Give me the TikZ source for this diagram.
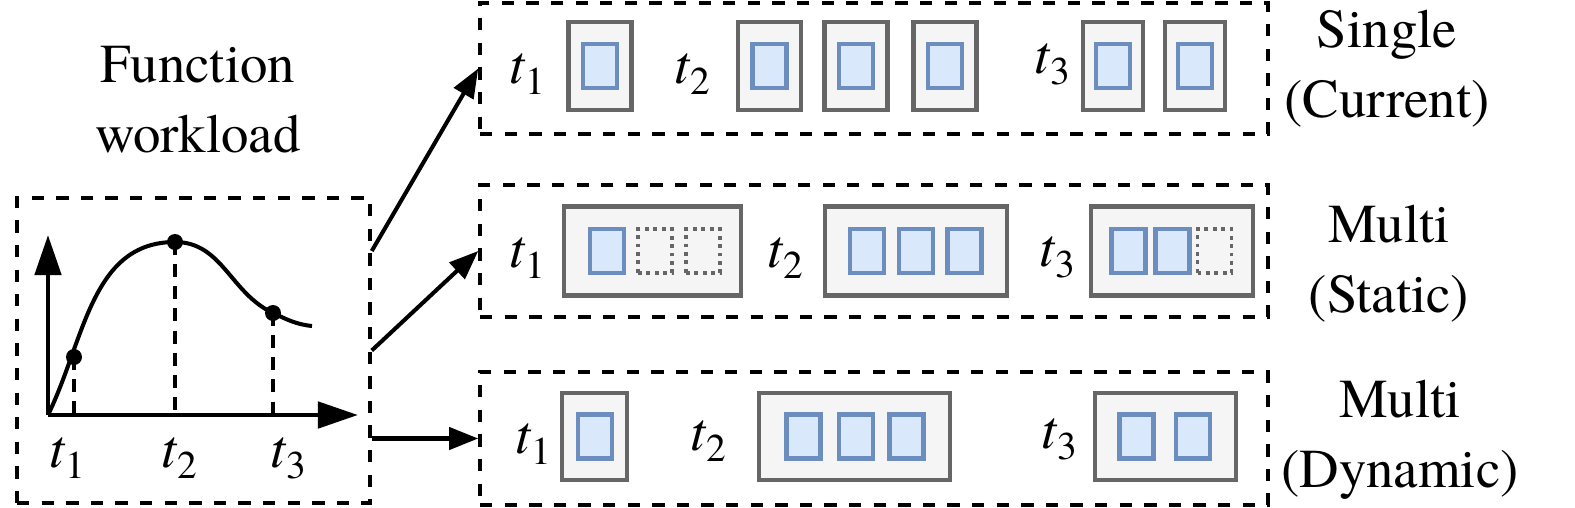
\documentclass[tikz,border=0pt]{standalone}
\usepackage{fontspec}
\setmainfont{texgyretermes}[Extension=.otf, UprightFont=*-regular, ItalicFont=*-italic, BoldFont=*-bold, BoldItalicFont=*-bolditalic]
\usetikzlibrary{arrows.meta}
\definecolor{ctrline}{RGB}{102, 102, 102}
\definecolor{ctrfill}{RGB}{245, 245, 245}
\definecolor{instline}{RGB}{108, 142, 191}
\definecolor{instfill}{RGB}{218, 232, 252}

\newcommand{\tlab}[1]{\textit{t}\raisebox{-3.4pt}{\fontsize{11.2}{11.2}\selectfont #1}}

\begin{document}
\begin{tikzpicture}[
    txt/.style={font=\fontsize{15.6}{19.9}\selectfont, inner sep=0pt, align=center},
    tl/.style={font=\fontsize{15.6}{19.9}\selectfont, inner sep=0pt, anchor=base},
    group/.style={rectangle, draw=black, line width=1pt, dash pattern=on 3.5pt off 3.5pt, minimum width=7.88cm, inner sep=0pt},
    ctr/.style={rectangle, draw=ctrline, fill=ctrfill, line width=1.3pt, minimum height=0.88cm, inner sep=0pt},
    inst/.style={rectangle, draw=instline, fill=instfill, line width=1.3pt, minimum width=0.34cm, minimum height=0.44cm, inner sep=0pt},
    idle/.style={rectangle, draw=ctrline, line width=0.9pt, dash pattern=on 1.1pt off 1.3pt, minimum width=0.34cm, minimum height=0.44cm, inner sep=0pt},
    arrow/.style={-{Triangle[length=8.3pt, width=6.3pt]}, line width=1.15pt},
    axis/.style={-{Triangle[length=11.4pt, width=7.4pt]}, line width=1.4pt},
    guide/.style={line width=1.15pt, dash pattern=on 3.7pt off 2.6pt},
    dot/.style={circle, fill=black, inner sep=0pt, minimum size=0.16cm}
]
\useasboundingbox (0,0) rectangle (15.75,5.07);

% Workload panel
\node[txt] (title) at (1.98, 4.07) {Function\\workload};
\node[group, minimum width=3.53cm, minimum height=3.05cm] (wl) at (1.935, 1.565) {};

\coordinate (o) at (0.48, 0.92);
\draw[axis] (o) -- (0.48, 2.72);
\draw[axis] (o) -- (3.58, 0.92);
\draw[line width=1.15pt] (o) to[out=64, in=180] (1.75, 2.65) to[out=0, in=155] (2.73, 1.94) to[out=-25, in=174] (3.12, 1.81);

\node[dot] (p1) at (0.74, 1.50) {};
\node[dot] (p2) at (1.75, 2.65) {};
\node[dot] (p3) at (2.73, 1.94) {};
\draw[guide] (p1.center) -- (p1.center |- o);
\draw[guide] (p2.center) -- (p2.center |- o);
\draw[guide] (p3.center) -- (p3.center |- o);

\node[tl] (w1) at (0.675, 0.40) {\tlab{1}};
\node[tl] (w2) at (1.79, 0.40) {\tlab{2}};
\node[tl] (w3) at (2.88, 0.40) {\tlab{3}};

% Scaling policies
\node[group, minimum height=1.31cm] (single) at (8.74, 4.385) {};
\node[group, minimum height=1.32cm] (static) at (8.74, 2.56) {};
\node[group, minimum height=1.33cm] (dynamic) at (8.74, 0.685) {};

\node[txt] (singlelab) at (13.87, 4.38) {Single\\(Current)};
\node[txt] (staticlab) at (13.89, 2.43) {Multi\\(Static)};
\node[txt] (dynamiclab) at (14.00, 0.67) {Multi\\(Dynamic)};

% Arrows from workload to policies
\draw[arrow] (wl.east |- static.west) -- (single.west);
\draw[arrow] (wl.east) -- (static.west);
\draw[arrow] (wl.east |- dynamic.west) -- (dynamic.west);

% Single (Current)
\node[tl] (s-t1) at (5.27, 4.24) {\tlab{1}};
\node[tl] (s-t2) at (6.92, 4.24) {\tlab{2}};
\node[tl] (s-t3) at (10.525, 4.34) {\tlab{3}};

\node[ctr, minimum width=0.63cm] (s1) at (6.00, 4.41) {};
\node[ctr, minimum width=0.63cm] (s2) at (7.695, 4.41) {};
\node[ctr, minimum width=0.63cm] (s3) at (8.56, 4.41) {};
\node[ctr, minimum width=0.63cm] (s4) at (9.45, 4.41) {};
\node[ctr, minimum width=0.60cm] (s5) at (11.13, 4.41) {};
\node[ctr, minimum width=0.60cm] (s6) at (11.95, 4.41) {};
\node[inst] (s1a) at (s1) {};
\node[inst] (s2a) at (s2) {};
\node[inst] (s3a) at (s3) {};
\node[inst] (s4a) at (s4) {};
\node[inst] (s5a) at (s5) {};
\node[inst] (s6a) at (s6) {};

% Multi (Static)
\node[tl] (m-t1) at (5.27, 2.40) {\tlab{1}};
\node[tl] (m-t2) at (7.85, 2.40) {\tlab{2}};
\node[tl] (m-t3) at (10.57, 2.41) {\tlab{3}};

\node[ctr, minimum width=1.77cm, minimum height=0.89cm] (m1) at (6.525, 2.56) {};
\node[ctr, minimum width=1.82cm, minimum height=0.89cm] (m2) at (9.16, 2.56) {};
\node[ctr, minimum width=1.62cm, minimum height=0.89cm] (m3) at (11.72, 2.56) {};
\node[inst] (m1a) at (6.07, 2.56) {};
\node[idle] (m1b) at (6.55, 2.56) {};
\node[idle] (m1c) at (7.03, 2.56) {};
\node[inst] (m2a) at (8.67, 2.56) {};
\node[inst] (m2b) at (9.16, 2.56) {};
\node[inst] (m2c) at (9.645, 2.56) {};
\node[inst] (m3a) at (11.285, 2.56) {};
\node[inst] (m3b) at (11.725, 2.56) {};
\node[idle] (m3c) at (12.145, 2.56) {};

% Multi (Dynamic)
\node[tl] (d-t1) at (5.33, 0.54) {\tlab{1}};
\node[tl] (d-t2) at (7.08, 0.57) {\tlab{2}};
\node[tl] (d-t3) at (10.59, 0.59) {\tlab{3}};

\node[ctr, minimum width=0.65cm, minimum height=0.87cm] (d1) at (5.945, 0.705) {};
\node[ctr, minimum width=1.91cm, minimum height=0.87cm] (d2) at (8.545, 0.705) {};
\node[ctr, minimum width=1.41cm, minimum height=0.87cm] (d3) at (11.655, 0.705) {};
\node[inst] (d1a) at (5.95, 0.705) {};
\node[inst] (d2a) at (8.035, 0.705) {};
\node[inst] (d2b) at (8.56, 0.705) {};
\node[inst] (d2c) at (9.065, 0.705) {};
\node[inst] (d3a) at (11.365, 0.705) {};
\node[inst] (d3b) at (11.93, 0.705) {};

\end{tikzpicture}
\end{document}
